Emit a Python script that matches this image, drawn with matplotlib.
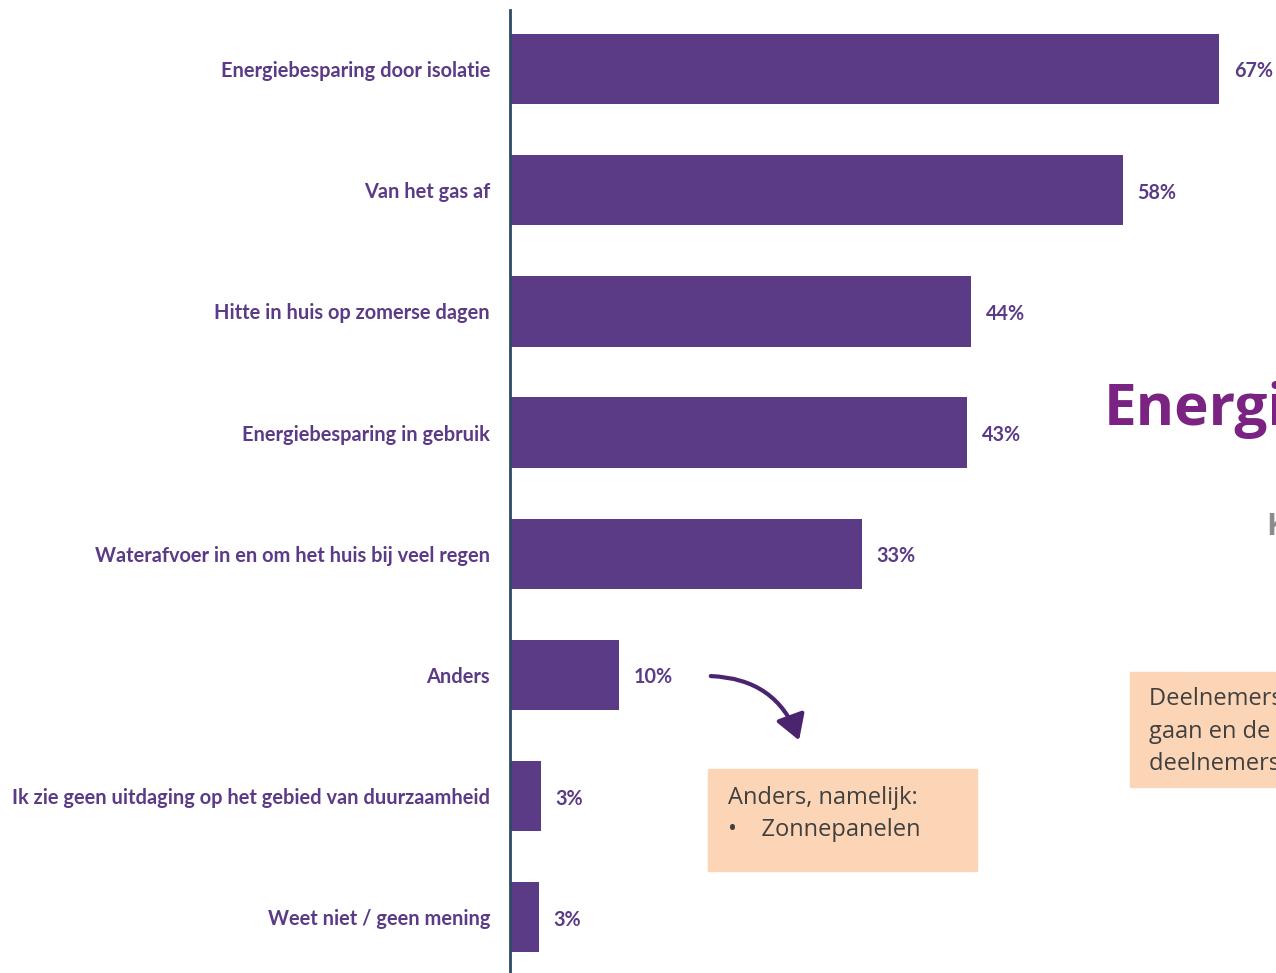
import matplotlib
matplotlib.use("Agg")
import matplotlib.pyplot as plt
from matplotlib.patches import FancyArrowPatch, Rectangle

categories = ["Energiebesparing door isolatie", "Van het gas af",
              "Hitte in huis op zomerse dagen", "Energiebesparing in gebruik",
              "Waterafvoer in en om het huis bij veel regen", "Anders",
              "Ik zie geen uitdaging op het gebied van duurzaamheid",
              "Weet niet / geen mening"]
values = [66.9, 57.8, 43.5, 43.1, 33.2, 10.3, 2.9, 2.7]
labels = ["67%", "58%", "44%", "43%", "33%", "10%", "3%", "3%"]

purple = "#5B3A86"
plt.rcParams['font.family'] = ['Lato', 'DejaVu Sans']

fig = plt.figure(figsize=(12.76, 9.73), dpi=100)
ax = fig.add_axes([0.3997, 0.0, 0.6003, 0.9897])

pos = list(range(len(categories)))
ax.barh(pos, values, height=0.58, color=purple)
ax.set_xlim(0, 72.26)
ax.set_ylim(7.46, -0.487)
ax.set_yticks(pos)
ax.set_yticklabels(categories, fontsize=14.4, fontweight='bold', color=purple)
ax.tick_params(axis='y', length=0, pad=14.4)
ax.set_xticks([])
for s in ['top', 'right', 'bottom']:
    ax.spines[s].set_visible(False)
ax.spines['left'].set_color("#2E4A66")
ax.spines['left'].set_linewidth(2)

for p, v, l in zip(pos, values, labels):
    ax.text(v + 1.4, p + 0.02, l, va='center', ha='left', fontsize=14.2,
            fontweight='bold', color=purple)

# slide decorations
W, H = 1276, 973
def fx(x):
    return x / W
def fy(y):
    return 1 - y / H

fig.patches.append(Rectangle((fx(708), fy(871)), fx(977) - fx(708), fy(769) - fy(871),
                             transform=fig.transFigure, color="#FBD5B5", zorder=0))
fig.text(fx(728), fy(798), "Anders, namelijk:", fontsize=17, color="#404040",
         va='center', family=['Open Sans', 'DejaVu Sans'])
fig.text(fx(728), fy(830), "•    Zonnepanelen", fontsize=17, color="#404040",
         va='center', family=['Open Sans', 'DejaVu Sans'])

arrow = FancyArrowPatch((fx(708), fy(676)), (fx(800), fy(743)), transform=fig.transFigure,
                        connectionstyle="arc3,rad=-0.35", arrowstyle="-|>,head_length=10,head_width=6",
                        color="#4B2470", lw=3, mutation_scale=1.5)
fig.patches.append(arrow)

fig.text(fx(1104), fy(410), "Energiebesparing", fontsize=42, fontweight='bold',
         color="#7A2383", va='center', family=['Open Sans', 'DejaVu Sans'])
fig.text(fx(1266), fy(527), "K", fontsize=22, fontweight='bold',
         color="#8C8C8C", va='center', family=['Open Sans', 'DejaVu Sans'])

fig.patches.append(Rectangle((fx(1130), fy(787)), fx(1276) - fx(1130), fy(672) - fy(787),
                             transform=fig.transFigure, color="#FBD5B5", zorder=0))
for yy, t in [(699, "Deelnemers gaven"), (732, "gaan en de lokale"), (764, "deelnemers geven")]:
    fig.text(fx(1149), fy(yy), t, fontsize=17, color="#404040", va='center',
             family=['Open Sans', 'DejaVu Sans'])

fig.savefig("out.png", dpi=100)
